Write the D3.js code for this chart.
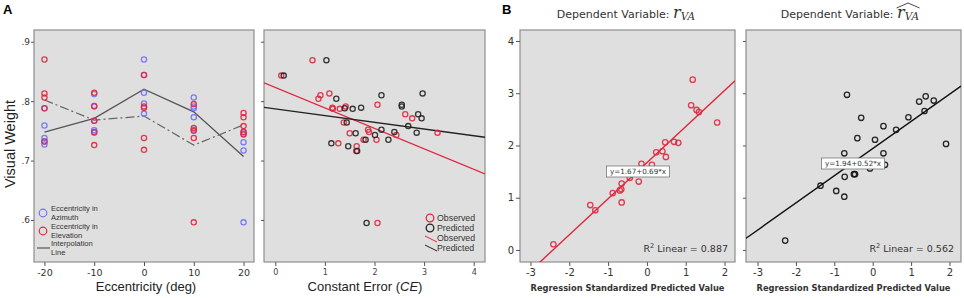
<!DOCTYPE html>
<html><head><meta charset="utf-8">
<script src="https://cdn.jsdelivr.net/npm/d3@7"></script>
<style>
html,body{margin:0;padding:0;background:#fff;}
svg{display:block;}
</style></head>
<body>
<svg id="chart" width="964" height="298"></svg>
<script>
// ---------------- DATA ----------------
// Panel A-left: visual weight by eccentricity
const eccentricities = [-20, -10, 0, 10, 20];
const azimuthWeights = [
  [0.788, 0.759, 0.738, 0.732, 0.727],
  [0.812, 0.791, 0.767, 0.751, 0.747],
  [0.870, 0.844, 0.814, 0.796, 0.779],
  [0.806, 0.791, 0.788, 0.773, 0.752],
  [0.748, 0.745, 0.731, 0.717, 0.596]
];
const elevationWeights = [
  [0.870, 0.813, 0.806, 0.788, 0.732],
  [0.814, 0.792, 0.767, 0.748, 0.726],
  [0.844, 0.791, 0.789, 0.738, 0.718],
  [0.795, 0.755, 0.750, 0.738, 0.596],
  [0.780, 0.773, 0.758, 0.748, 0.744]
];
const azimuthLine = [0.748, 0.771, 0.820, 0.782, 0.707];
const elevationLine = [0.802, 0.768, 0.775, 0.726, 0.760];
const weightTicks = [0.6, 0.7, 0.8, 0.9];
const weightTickLabels = [".6", ".7", ".8", ".9"];

// Panel A-right: visual weight vs constant error
const observedCE = [0.75, 0.12, 0.87, 0.91, 1.09, 1.15, 1.16, 1.30, 1.42, 1.38, 1.50, 1.27, 1.64, 1.63, 1.78, 1.87, 1.89, 2.04, 2.06, 2.44, 2.62, 2.76, 3.27, 2.06];
const observedVW = [0.869, 0.843, 0.804, 0.810, 0.813, 0.789, 0.787, 0.787, 0.791, 0.764, 0.746, 0.729, 0.724, 0.716, 0.735, 0.752, 0.748, 0.735, 0.794, 0.743, 0.778, 0.771, 0.747, 0.595];
const predictedCE = [1.03, 0.17, 1.23, 2.14, 2.97, 1.40, 1.56, 1.73, 2.55, 2.55, 2.88, 2.95, 1.44, 2.68, 2.14, 2.40, 1.62, 2.01, 2.85, 1.82, 2.28, 1.13, 1.47, 1.65, 1.84];
const predictedVW = [0.869, 0.843, 0.804, 0.810, 0.813, 0.788, 0.787, 0.789, 0.794, 0.791, 0.778, 0.771, 0.764, 0.758, 0.752, 0.748, 0.746, 0.743, 0.747, 0.735, 0.735, 0.729, 0.724, 0.716, 0.595];
const observedFit = [0.823, -0.0344];   // intercept, slope
const predictedFit = [0.787, -0.0113];
const ceTicks = [0, 1, 2, 3, 4];

// Panel B: regressions
const stdPredR = [-2.41, -1.46, -1.33, -0.88, -0.70, -0.66, -0.65, -0.65, -0.44, -0.21, -0.14, 0.13, 0.24, 0.40, 0.47, 0.49, 0.70, 0.81, 1.14, 1.18, 1.28, 1.34, 1.81];
const rVA = [0.11, 0.86, 0.76, 1.09, 1.14, 1.16, 1.27, 0.91, 1.38, 1.31, 1.65, 1.63, 1.87, 1.89, 2.06, 1.78, 2.07, 2.05, 2.77, 3.26, 2.68, 2.64, 2.44];
const rFit = [1.67, 0.69];
const stdPredHat = [-2.28, -1.36, -0.95, -0.74, -0.73, -0.74, -0.67, -0.49, -0.46, -0.40, -0.30, -0.07, 0.06, 0.28, 0.28, 0.32, 0.61, 0.93, 1.21, 1.38, 1.35, 1.59, 1.91];
const rVAHat = [0.18, 1.23, 1.13, 1.02, 1.40, 1.85, 2.97, 1.45, 1.45, 2.14, 2.53, 1.56, 2.11, 1.85, 2.37, 1.63, 2.30, 2.54, 2.84, 2.94, 2.66, 2.86, 2.03];
const hatFit = [1.94, 0.52];
const stdTicks = [-3, -2, -1, 0, 1, 2];
const rTicks = [0, 1, 2, 3, 4];
const rSquared = ["0.887", "0.562"];

// ---------------- STYLE / LAYOUT ----------------
const BG = "#dfdfdf", FRAME = "#8e8e8e", RED = "#e0283f", BLUE = "#7070f8", DARK = "#222";
const plotTop = 30, plotBottom = 262;
const svg = d3.select("#chart");
const SANS = "'Liberation Sans', Arial, sans-serif";
const SPSS = "'DejaVu Sans', sans-serif";

function frame(x0, x1) {
  svg.append("rect").attr("x", x0).attr("y", plotTop).attr("width", x1 - x0).attr("height", plotBottom - plotTop)
    .attr("fill", BG).attr("stroke", FRAME).attr("stroke-width", 1.2);
}
function circles(g, xs, ys, sx, sy, color, r) {
  g.selectAll(null).data(xs.map((x, i) => [x, ys[i]])).enter().append("circle")
    .attr("cx", d => sx(d[0])).attr("cy", d => sy(d[1])).attr("r", r || 2.6)
    .attr("fill", "none").attr("stroke", color).attr("stroke-width", 1.3).attr("stroke-opacity", 0.9);
}
function styleAxis(g, font, size, color) {
  g.select(".domain").remove();
  g.selectAll(".tick line").attr("stroke", "#555");
  g.selectAll(".tick text").attr("font-family", font).attr("font-size", size).attr("fill", color || "#333");
}

// ---------- Panel A-left ----------
const p1x = d3.scaleLinear().domain([-22.1, 22.1]).range([34, 254]);
const p1y = d3.scaleLinear().domain([0.5293, 0.9197]).range([plotBottom, plotTop]);
frame(34, 254);
const g1 = svg.append("g");
const line1 = d3.line().x((d, i) => p1x(eccentricities[i])).y(d => p1y(d));
g1.append("path").attr("d", line1(azimuthLine)).attr("fill", "none").attr("stroke", "#555").attr("stroke-width", 1.3);
g1.append("path").attr("d", line1(elevationLine)).attr("fill", "none").attr("stroke", "#666").attr("stroke-width", 1.2).attr("stroke-dasharray", "9,3,2,3");
eccentricities.forEach((e, i) => {
  circles(g1, azimuthWeights[i].map(() => e), azimuthWeights[i], p1x, p1y, BLUE);
});
eccentricities.forEach((e, i) => {
  circles(g1, elevationWeights[i].map(() => e), elevationWeights[i], p1x, p1y, RED);
});
const ax1 = svg.append("g").attr("transform", `translate(0,${plotBottom})`)
  .call(d3.axisBottom(p1x).tickValues(eccentricities).tickSize(4).tickPadding(3).tickFormat(d => String(d).replace("−", "-")));
styleAxis(ax1, SPSS, 9.5);
const ay1 = svg.append("g").attr("transform", `translate(34,0)`)
  .call(d3.axisLeft(p1y).tickValues(weightTicks).tickSize(3).tickPadding(1).tickFormat((d, i) => weightTickLabels[i]));
styleAxis(ay1, SPSS, 9);
// legend
const lg1 = svg.append("g").attr("font-family", SANS).attr("font-size", 7.6).attr("fill", "#333");
lg1.append("circle").attr("cx", 43).attr("cy", 213).attr("r", 3.8).attr("fill", "none").attr("stroke", BLUE).attr("stroke-width", 1.2);
lg1.append("text").attr("x", 51).attr("y", 211.2).text("Eccentricity in");
lg1.append("text").attr("x", 51).attr("y", 220).text("Azimuth");
lg1.append("circle").attr("cx", 43).attr("cy", 231).attr("r", 3.8).attr("fill", "none").attr("stroke", RED).attr("stroke-width", 1.2);
lg1.append("text").attr("x", 51).attr("y", 229.2).text("Eccentricity in");
lg1.append("text").attr("x", 51).attr("y", 238).text("Elevation");
lg1.append("line").attr("x1", 37).attr("x2", 50).attr("y1", 248).attr("y2", 248).attr("stroke", "#555").attr("stroke-width", 1.2);
lg1.append("text").attr("x", 51).attr("y", 246.2).text("Interpolation");
lg1.append("text").attr("x", 51).attr("y", 255).text("Line");
svg.append("text").attr("x", 146).attr("y", 291).attr("text-anchor", "middle").attr("font-family", SANS).attr("font-size", 13).attr("fill", "#222").text("Eccentricity (deg)");
svg.append("text").attr("transform", "translate(15,144) rotate(-90)").attr("text-anchor", "middle").attr("font-family", SANS).attr("font-size", 14.5).attr("fill", "#222").text("Visual Weight");
svg.append("text").attr("x", 3).attr("y", 14).attr("font-family", SANS).attr("font-weight", "bold").attr("font-size", 13).text("A");

// ---------- Panel A-right ----------
const p2x = d3.scaleLinear().domain([-0.228, 4.228]).range([264, 485]);
frame(264, 485);
svg.append("clipPath").attr("id", "c2").append("rect").attr("x", 264).attr("y", plotTop).attr("width", 221).attr("height", plotBottom - plotTop);
const g2 = svg.append("g").attr("clip-path", "url(#c2)");
const fitLine2 = (fit) => d3.line().x(d => p2x(d)).y(d => p1y(fit[0] + fit[1] * d))(p2x.domain());
g2.append("path").attr("d", fitLine2(observedFit)).attr("stroke", RED).attr("stroke-width", 1.4).attr("fill", "none");
g2.append("path").attr("d", fitLine2(predictedFit)).attr("stroke", DARK).attr("stroke-width", 1.4).attr("fill", "none");
circles(g2, observedCE, observedVW, p2x, p1y, RED);
circles(g2, predictedCE, predictedVW, p2x, p1y, DARK);
const ax2 = svg.append("g").attr("transform", `translate(0,${plotBottom})`)
  .call(d3.axisBottom(p2x).tickValues(ceTicks).tickSize(4).tickPadding(3).tickFormat(d3.format("d")));
styleAxis(ax2, SPSS, 8, "#444");
const ay2 = svg.append("g").attr("transform", `translate(264,0)`)
  .call(d3.axisLeft(p1y).tickValues(weightTicks).tickSize(3).tickFormat(""));
styleAxis(ay2, SPSS, 8);
const lg2 = svg.append("g").attr("font-family", SANS).attr("font-size", 8.8).attr("fill", "#333");
lg2.append("circle").attr("cx", 430).attr("cy", 218).attr("r", 3.8).attr("fill", "none").attr("stroke", RED).attr("stroke-width", 1.3);
lg2.append("text").attr("x", 437).attr("y", 221.3).text("Observed");
lg2.append("circle").attr("cx", 430).attr("cy", 228).attr("r", 3.8).attr("fill", "none").attr("stroke", DARK).attr("stroke-width", 1.3);
lg2.append("text").attr("x", 437).attr("y", 231.3).text("Predicted");
lg2.append("line").attr("x1", 425).attr("x2", 437).attr("y1", 236).attr("y2", 242).attr("stroke", RED).attr("stroke-width", 1);
lg2.append("text").attr("x", 437).attr("y", 241.3).text("Observed");
lg2.append("line").attr("x1", 425).attr("x2", 437).attr("y1", 245).attr("y2", 251).attr("stroke", DARK).attr("stroke-width", 1);
lg2.append("text").attr("x", 437).attr("y", 250.7).text("Predicted");
const ceLab = svg.append("text").attr("x", 365).attr("y", 291).attr("text-anchor", "middle").attr("font-family", SANS).attr("font-size", 13).attr("fill", "#222");
ceLab.append("tspan").text("Constant Error (");
ceLab.append("tspan").attr("font-style", "italic").text("CE");
ceLab.append("tspan").text(")");

// ---------- Panel B ----------
const pBy = d3.scaleLinear().domain([-0.23, 4.21]).range([plotBottom, plotTop]);
function regPanel(id, x0, x1, domain, xs, ys, fit, color, boxCenter, r2, showY) {
  const sx = d3.scaleLinear().domain(domain).range([x0, x1]);
  frame(x0, x1);
  svg.append("clipPath").attr("id", id).append("rect").attr("x", x0).attr("y", plotTop).attr("width", x1 - x0).attr("height", plotBottom - plotTop);
  const g = svg.append("g").attr("clip-path", `url(#${id})`);
  g.append("path").attr("d", d3.line().x(d => sx(d)).y(d => pBy(fit[0] + fit[1] * d))(domain))
    .attr("stroke", color).attr("stroke-width", 1.4).attr("fill", "none");
  circles(g, xs, ys, sx, pBy, color, 2.7);
  const label = `y=${fit[0].toFixed(2)}+${fit[1].toFixed(2)}*x`;
  const bw = 63, bh = 11;
  svg.append("rect").attr("x", boxCenter[0] - bw / 2).attr("y", boxCenter[1] - bh / 2).attr("width", bw).attr("height", bh)
    .attr("fill", "#fff").attr("stroke", "#777").attr("stroke-width", 0.8);
  svg.append("text").attr("x", boxCenter[0]).attr("y", boxCenter[1] + 2.8).attr("text-anchor", "middle")
    .attr("font-family", SPSS).attr("font-size", 7.2).attr("fill", "#333").text(label);
  const rt = svg.append("text").attr("x", x1 - 7).attr("y", 252).attr("text-anchor", "end")
    .attr("font-family", SPSS).attr("font-size", 9.5).attr("fill", "#333");
  rt.append("tspan").text("R");
  rt.append("tspan").attr("font-size", 6.5).attr("dy", -4).text("2");
  rt.append("tspan").attr("dy", 4).text("  Linear = " + r2);
  const ax = svg.append("g").attr("transform", `translate(0,${plotBottom})`)
    .call(d3.axisBottom(sx).tickValues(stdTicks).tickSize(4).tickPadding(3).tickFormat(d => String(d).replace("−", "-")));
  styleAxis(ax, SPSS, 10, "#333");
  const ay = svg.append("g").attr("transform", `translate(${x0},0)`)
    .call(d3.axisLeft(pBy).tickValues(rTicks).tickSize(showY ? 4 : 3).tickPadding(2).tickFormat(showY ? d3.format("d") : ""));
  styleAxis(ay, SPSS, 10, "#333");
  svg.append("text").attr("x", (x0 + x1) / 2).attr("y", 291).attr("text-anchor", "middle")
    .attr("font-family", SPSS).attr("font-weight", "bold").attr("font-size", 8.3).attr("fill", "#333")
    .text("Regression Standardized Predicted Value");
}
regPanel("c3", 520, 735, [-3.27, 2.27], stdPredR, rVA, rFit, RED, [638, 171.5], rSquared[0], true);
regPanel("c4", 746, 961, [-3.30, 2.30], stdPredHat, rVAHat, hatFit, "#111", [853, 163.5], rSquared[1], false);

// titles
function title(cx) {
  const t = svg.append("text").attr("x", cx).attr("y", 18).attr("text-anchor", "middle").attr("fill", "#333");
  t.append("tspan").attr("font-family", SPSS).attr("font-size", 11).text("Dependent Variable:  ");
  t.append("tspan").attr("font-family", "'DejaVu Serif', serif").attr("font-style", "italic").attr("font-size", 16).text("r");
  t.append("tspan").attr("font-family", "'DejaVu Serif', serif").attr("font-style", "italic").attr("font-size", 10.5).attr("dy", 2).text("VA");
  return t;
}
title(626);
const t2 = title(850);
const bb = t2.node().getBBox();
svg.append("path").attr("d", `M${bb.x + bb.width - 23},8 L${bb.x + bb.width - 11.5},3 L${bb.x + bb.width},8`)
  .attr("fill", "none").attr("stroke", "#333").attr("stroke-width", 0.9);
svg.append("text").attr("x", 502).attr("y", 14).attr("font-family", SANS).attr("font-weight", "bold").attr("font-size", 13).text("B");
</script>
</body></html>
